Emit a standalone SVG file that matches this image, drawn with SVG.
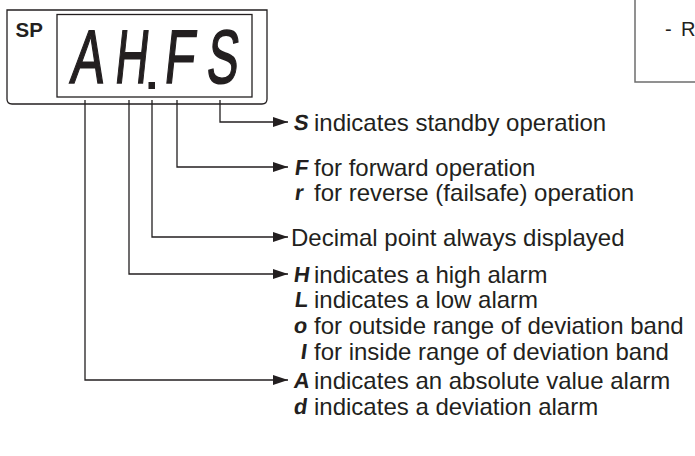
<svg xmlns="http://www.w3.org/2000/svg" width="695" height="456" viewBox="0 0 695 456">
<style>
.ln{fill:none;stroke:#231f20;stroke-width:1.3}
.lbl{font-family:"Liberation Sans",Arial,sans-serif;font-size:24px;fill:#231f20}
.gl{font-family:"Liberation Sans",Arial,sans-serif;font-size:22px;font-weight:bold;fill:#231f20}
.seg{font-family:"Liberation Sans",Arial,sans-serif;font-size:76px;fill:#231f20;stroke:#231f20;stroke-width:1.6;text-anchor:middle}
</style>
<defs>
<marker id="ah" viewBox="0 0 15 10" refX="15" refY="5" markerWidth="15" markerHeight="10" markerUnits="userSpaceOnUse" orient="auto">
<path d="M0,0 L15,5 L0,10 Z" fill="#231f20"/>
</marker>
</defs>
<g id="box-partial">
<path d="M635,0 V82 H695" fill="none" stroke="#6d6d6d" stroke-width="1.5"/>
<text x="665" y="36" font-family="Liberation Sans,Arial,sans-serif" font-size="20" fill="#231f20">-<tspan x="681">R</tspan></text>
</g>
<g id="display">
<path class="ln" d="M7,10 H267 V99 Q267,104 262,104 H12 Q7,104 7,99 Z"/>
<rect class="ln" x="57" y="14.5" width="195" height="82.5"/>
<text x="15.5" y="36.5" font-family="Liberation Sans,Arial,sans-serif" font-size="20.5" font-weight="bold" fill="#231f20">SP</text>
<text class="seg" transform="translate(86,83) skewX(-6) scale(0.66,1)">A</text>
<text class="seg" transform="translate(130,83) skewX(-6) scale(0.6,1)">H</text>
<rect x="148.5" y="82" width="6.5" height="7" fill="#231f20"/>
<text class="seg" transform="translate(178,83) skewX(-6) scale(0.66,1)">F</text>
<text class="seg" transform="translate(221,83) skewX(-6) scale(0.62,1)">S</text>
</g>
<g id="connectors">
<path class="ln" marker-end="url(#ah)" d="M220,100 V122 H288"/>
<path class="ln" marker-end="url(#ah)" d="M177,100 V167 H288"/>
<path class="ln" marker-end="url(#ah)" d="M152,100 V237 H288"/>
<path class="ln" marker-end="url(#ah)" d="M129,100 V274 H288"/>
<path class="ln" marker-end="url(#ah)" d="M85,100 V380 H288"/>
</g>
<g id="label-s">
<text class="gl" transform="translate(293,130) skewX(-8)">S</text>
<text class="lbl" x="314" y="130.5">indicates standby operation</text>
</g>
<g id="label-f">
<text class="gl" transform="translate(294,175) skewX(-8)">F</text>
<text class="lbl" x="314" y="175.5">for forward operation</text>
</g>
<g id="label-r">
<text class="gl" transform="translate(294,200) skewX(-8)">r</text>
<text class="lbl" x="314" y="200.5">for reverse (failsafe) operation</text>
</g>
<g id="label-dp">
<text class="lbl" x="291" y="245.5">Decimal point always displayed</text>
</g>
<g id="label-h">
<text class="gl" transform="translate(293,282) skewX(-8)">H</text>
<text class="lbl" x="314" y="282.5">indicates a high alarm</text>
</g>
<g id="label-l">
<text class="gl" transform="translate(294,307) skewX(-8)">L</text>
<text class="lbl" x="314" y="307.5">indicates a low alarm</text>
</g>
<g id="label-o">
<text class="gl" transform="translate(293,333) skewX(-8)">o</text>
<text class="lbl" x="314" y="333.5">for outside range of deviation band</text>
</g>
<g id="label-i">
<text class="gl" transform="translate(300,359) skewX(-8)">I</text>
<text class="lbl" x="314" y="359.5">for inside range of deviation band</text>
</g>
<g id="label-a">
<text class="gl" transform="translate(293,388) skewX(-8)">A</text>
<text class="lbl" x="314" y="388.5">indicates an absolute value alarm</text>
</g>
<g id="label-d">
<text class="gl" transform="translate(293,414) skewX(-8)">d</text>
<text class="lbl" x="314" y="414.5">indicates a deviation alarm</text>
</g>
</svg>
